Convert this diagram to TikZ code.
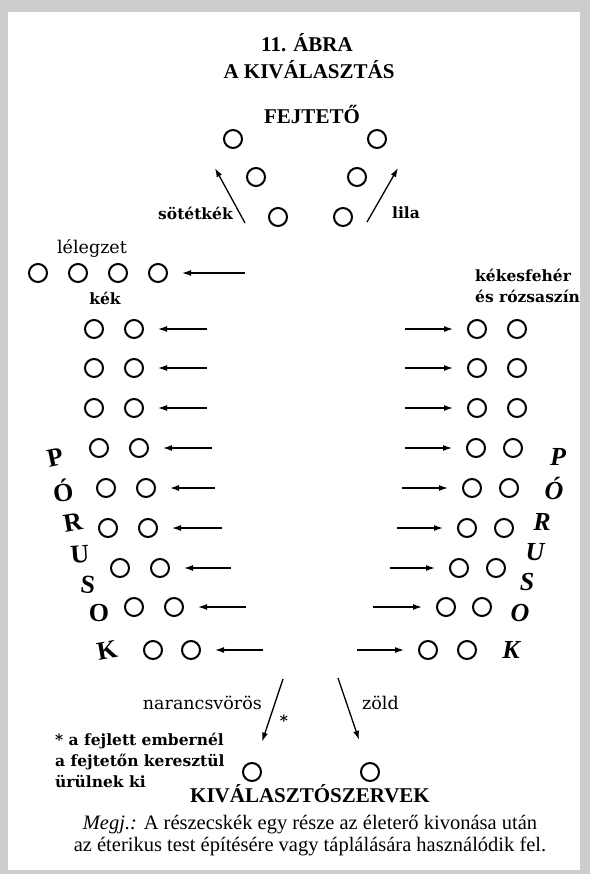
\documentclass[tikz,border=0pt]{standalone}
\usepackage{fontspec}
\setmainfont{Liberation Serif}
\newfontfamily\widefont{DejaVu Serif}
\usetikzlibrary{arrows.meta}
\definecolor{marble}{RGB}{205,205,205}

\begin{document}
\begin{tikzpicture}[x=1pt,y=-1pt]

\tikzstyle{pore}=[circle, minimum size=18pt, inner sep=0pt, line width=2pt, draw=black]
\tikzstyle{connect}=[-{Latex[length=9pt,width=6pt]}, line width=1.3pt, shorten >=14pt]
\tikzstyle{ray}=[-{Latex[length=9pt,width=6pt]}, line width=1.3pt]
\tikzstyle{head}=[font=\fontsize{21}{24}\selectfont\bfseries, inner sep=0pt]
\tikzstyle{tag}=[font=\widefont\fontsize{17.5}{21}\selectfont, inner sep=0pt]
\tikzstyle{btag}=[font=\widefont\fontsize{15.5}{21}\selectfont\bfseries, inner sep=0pt]
\tikzstyle{lporus}=[font=\fontsize{26}{26}\selectfont\bfseries, inner sep=0pt]
\tikzstyle{rporus}=[font=\fontsize{26}{26}\selectfont\bfseries\itshape, inner sep=0pt]

% paper
\fill[marble] (0,0) rectangle (590,874);
\fill[white] (8,12) rectangle (580,870);
\useasboundingbox (0,0) rectangle (590,874);

\node[head] (title) at (307,43) {11. ÁBRA};
\node[head] (subtitle) at (309,70) {A KIVÁLASZTÁS};
\node[head] (fejteto) at (312,114) {FEJTETŐ};

% fejtető
\node[pore] (fl1) at (233,139) {};
\node[pore] (fl2) at (256,177) {};
\node[pore] (fl3) at (278,217) {};
\node[pore] (fr1) at (377,139) {};
\node[pore] (fr2) at (357,177) {};
\node[pore] (fr3) at (343,217) {};
\coordinate (sottail) at (245,223);
\coordinate (sothead) at (215,168);
\coordinate (lilatail) at (367,222);
\coordinate (lilahead) at (398,168);
\node[btag, anchor=east] (sotetkek) at (233,213) {sötétkék};
\node[btag, anchor=west] (lila) at (392,213) {lila};
\path (sottail) [ray] edge (sothead);
\path (lilatail) [ray] edge (lilahead);

% lélegzet
\node[tag] (lelegzet) at (92,248) {lélegzet};
\node[pore] (le1) at (38,273) {};
\node[pore] (le2) at (78,273) {};
\node[pore] (le3) at (118,273) {};
\node[pore] (le4) at (158,273) {};
\coordinate (letail) at (245,273);
\path (letail) [connect] edge (le4);

\node[btag] (kek) at (105,298) {kék};
\node[btag, anchor=west, align=left] (kekes) at (475,286) {kékesfehér\\és rózsaszín};

% left side
\node[pore] (l1a) at (94,329) {};  \node[pore] (l1b) at (134,329) {};
\node[pore] (l2a) at (94,368) {};  \node[pore] (l2b) at (134,368) {};
\node[pore] (l3a) at (94,408) {};  \node[pore] (l3b) at (134,408) {};
\node[pore] (l4a) at (99,448) {};  \node[pore] (l4b) at (139,448) {};
\node[pore] (l5a) at (106,488) {}; \node[pore] (l5b) at (146,488) {};
\node[pore] (l6a) at (108,528) {}; \node[pore] (l6b) at (148,528) {};
\node[pore] (l7a) at (120,568) {}; \node[pore] (l7b) at (160,568) {};
\node[pore] (l8a) at (134,607) {}; \node[pore] (l8b) at (174,607) {};
\node[pore] (l9a) at (153,650) {}; \node[pore] (l9b) at (191,650) {};

\coordinate (l1t) at (207,329);
\coordinate (l2t) at (207,368);
\coordinate (l3t) at (207,408);
\coordinate (l4t) at (212,448);
\coordinate (l5t) at (215,488);
\coordinate (l6t) at (222,528);
\coordinate (l7t) at (231,568);
\coordinate (l8t) at (246,607);
\coordinate (l9t) at (263,650);
\path (l1t) [connect] edge (l1b);
\path (l2t) [connect] edge (l2b);
\path (l3t) [connect] edge (l3b);
\path (l4t) [connect] edge (l4b);
\path (l5t) [connect] edge (l5b);
\path (l6t) [connect] edge (l6b);
\path (l7t) [connect] edge (l7b);
\path (l8t) [connect] edge (l8b);
\path (l9t) [connect] edge (l9b);

\node[lporus, rotate=12] (lp) at (55,458) {P};
\node[lporus, rotate=6] (lo1) at (63,490) {Ó};
\node[lporus, rotate=10] (lr) at (73,522) {R};
\node[lporus, rotate=4] (lu) at (80,554) {U};
\node[lporus, rotate=-6] (ls) at (88,585) {S};
\node[lporus] (lo2) at (99,613) {O};
\node[lporus, rotate=10] (lk) at (107,650) {K};

% right side
\node[pore] (r1a) at (477,329) {}; \node[pore] (r1b) at (517,329) {};
\node[pore] (r2a) at (477,368) {}; \node[pore] (r2b) at (517,368) {};
\node[pore] (r3a) at (477,408) {}; \node[pore] (r3b) at (517,408) {};
\node[pore] (r4a) at (476,448) {}; \node[pore] (r4b) at (513,448) {};
\node[pore] (r5a) at (472,488) {}; \node[pore] (r5b) at (509,488) {};
\node[pore] (r6a) at (467,528) {}; \node[pore] (r6b) at (504,528) {};
\node[pore] (r7a) at (459,568) {}; \node[pore] (r7b) at (496,568) {};
\node[pore] (r8a) at (446,607) {}; \node[pore] (r8b) at (482,607) {};
\node[pore] (r9a) at (428,650) {}; \node[pore] (r9b) at (467,650) {};

\coordinate (r1t) at (405,329);
\coordinate (r2t) at (405,368);
\coordinate (r3t) at (405,408);
\coordinate (r4t) at (405,448);
\coordinate (r5t) at (402,488);
\coordinate (r6t) at (397,528);
\coordinate (r7t) at (390,568);
\coordinate (r8t) at (373,607);
\coordinate (r9t) at (357,650);
\path (r1t) [connect] edge (r1a);
\path (r2t) [connect] edge (r2a);
\path (r3t) [connect] edge (r3a);
\path (r4t) [connect] edge (r4a);
\path (r5t) [connect] edge (r5a);
\path (r6t) [connect] edge (r6a);
\path (r7t) [connect] edge (r7a);
\path (r8t) [connect] edge (r8a);
\path (r9t) [connect] edge (r9a);

\node[rporus] (rp) at (558,457) {P};
\node[rporus] (ro1) at (554,488) {Ó};
\node[rporus] (rr) at (542,522) {R};
\node[rporus] (ru) at (535,552) {U};
\node[rporus] (rs) at (527,582) {S};
\node[rporus] (ro2) at (520,613) {O};
\node[rporus] (rk) at (511,650) {K};

% kiválasztószervek
\node[pore] (kl) at (252,772) {};
\node[pore] (kr) at (370,772) {};
\coordinate (nartail) at (283,679);
\coordinate (zoldtail) at (338,678);
\path (nartail) [connect, shorten >=22pt] edge (kl);
\path (zoldtail) [connect, shorten >=24pt] edge (kr);
\node[tag, anchor=east] (naranc) at (262,703) {narancsvörös};
\node[btag] (star) at (284,721) {*};
\node[tag, anchor=west] (zold) at (362,703) {zöld};
\node[btag, anchor=west, align=left] (note) at (55,760) {* a fejlett embernél\\a fejtetőn keresztül\\ürülnek ki};
\node[head] (szervek) at (310,794) {KIVÁLASZTÓSZERVEK};

\node[font=\fontsize{20.5}{22}\selectfont, align=center, inner sep=0pt] (megj) at (310,836)
  {\textit{Megj.:} A részecskék egy része az életerő kivonása után\\az éterikus test építésére vagy táplálására használódik fel.};

\end{tikzpicture}
\end{document}
